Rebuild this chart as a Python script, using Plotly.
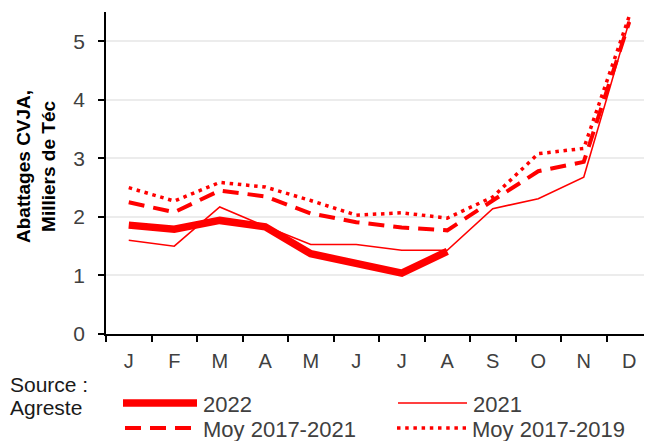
import plotly.graph_objects as go

# ---- data ----
months = ["janv", "févr", "mars", "avr", "mai", "juin", "juil", "août", "sept", "oct", "nov", "déc"]
month_letters = ["J", "F", "M", "A", "M", "J", "J", "A", "S", "O", "N", "D"]

s2022 = [1.86, 1.79, 1.94, 1.83, 1.37, 1.20, 1.04, 1.41]
s2021 = [1.60, 1.50, 2.17, 1.84, 1.53, 1.53, 1.43, 1.43, 2.14, 2.31, 2.68, 5.34]
moy_2017_2021 = [2.25, 2.08, 2.45, 2.35, 2.06, 1.91, 1.82, 1.77, 2.28, 2.78, 2.94, 5.33]
moy_2017_2019 = [2.50, 2.27, 2.59, 2.51, 2.28, 2.03, 2.07, 1.98, 2.34, 3.08, 3.17, 5.43]

y_ticks = [0, 1, 2, 3, 4, 5]
series_names = ["2022", "2021", "Moy 2017-2021", "Moy 2017-2019"]
source_lines = ["Source :", "Agreste"]
y_title = "Abattages CVJA,<br>Milliers de Téc"

RED = "#FF0000"
FONT = "Liberation Sans, Arial, sans-serif"
TXT = "#404040"

# page body has an 8px margin: figure pixel = screen pixel - 8
OFF = 8
W, H = 644, 433
M_L, M_R, M_T, M_B = 98, 0, 4, 107
PW = W - M_L - M_R
PH = H - M_T - M_B

def px_x(x):  # screen px -> paper
    return (x - OFF - M_L) / PW

def px_y(y):
    return (H - M_B - (y - OFF)) / PH

styles = [
    dict(width=7.5, dash="solid"),
    dict(width=1.6, dash="solid"),
    dict(width=4, dash="16px,9px"),
    dict(width=3.5, dash="3.5px,4.7px"),
]
series_vals = [s2022, s2021, moy_2017_2021, moy_2017_2019]

fig = go.Figure()
for name, vals, st in zip(series_names, series_vals, styles):
    fig.add_trace(go.Scatter(
        x=months[:len(vals)], y=vals, mode="lines", name=name,
        line=dict(color=RED, width=st["width"], dash=st["dash"]),
        showlegend=False,
    ))

# manual legend (positions in screen pixels)
leg_pos = [(123, 197, 403), (398, 467, 403), (125, 197, 428), (397, 466, 428)]
shapes = []
annotations = []
for name, st, (x0, x1, yy) in zip(series_names, styles, leg_pos):
    shapes.append(dict(
        type="line", xref="paper", yref="paper",
        x0=px_x(x0), x1=px_x(x1), y0=px_y(yy), y1=px_y(yy),
        line=dict(color=RED, width=st["width"], dash=st["dash"]),
    ))
    annotations.append(dict(
        xref="paper", yref="paper", x=px_x(x1 + 4), y=px_y(yy + 1),
        text=name, showarrow=False, xanchor="left", yanchor="middle",
        font=dict(family=FONT, size=22, color=TXT),
    ))
for txt, yy in zip(source_lines, [384, 407]):
    annotations.append(dict(
        xref="paper", yref="paper", x=px_x(OFF), y=px_y(yy),
        text=txt, showarrow=False, xanchor="left", yanchor="middle",
        font=dict(family=FONT, size=21, color="#1a1a1a"),
    ))
annotations.append(dict(
    xref="paper", yref="paper", x=px_x(36), y=px_y(167),
    text=y_title, showarrow=False, xanchor="center", yanchor="middle",
    textangle=-90, align="center",
    font=dict(family=FONT, size=19, color="black", weight="bold"),
))

fig.update_layout(
    width=W, height=H,
    margin=dict(l=M_L, r=M_R, t=M_T, b=M_B),
    paper_bgcolor="white", plot_bgcolor="white",
    font=dict(family=FONT, color=TXT),
    shapes=shapes, annotations=annotations,
    showlegend=False,
)
fig.update_xaxes(
    type="category", categoryorder="array", categoryarray=months,
    tickmode="array", tickvals=months, ticktext=month_letters,
    tickson="boundaries", ticks="outside", ticklen=6, tickwidth=1.5, tickcolor="black",
    showline=True, linecolor="black", linewidth=1.5,
    showgrid=False, range=[-0.5, 11.5],
    tickfont=dict(family=FONT, size=20, color=TXT),
    ticklabelstandoff=8,
)
fig.update_yaxes(
    range=[0, 5.5], tickmode="array", tickvals=y_ticks,
    ticks="outside", ticklen=6, tickwidth=1.5, tickcolor="black",
    showline=True, linecolor="black", linewidth=1.5,
    showgrid=True, gridcolor="#ececec", gridwidth=1.5, zeroline=False,
    tickfont=dict(family=FONT, size=21, color=TXT),
    ticklabelstandoff=9,
)

fig.write_html("out.html")
